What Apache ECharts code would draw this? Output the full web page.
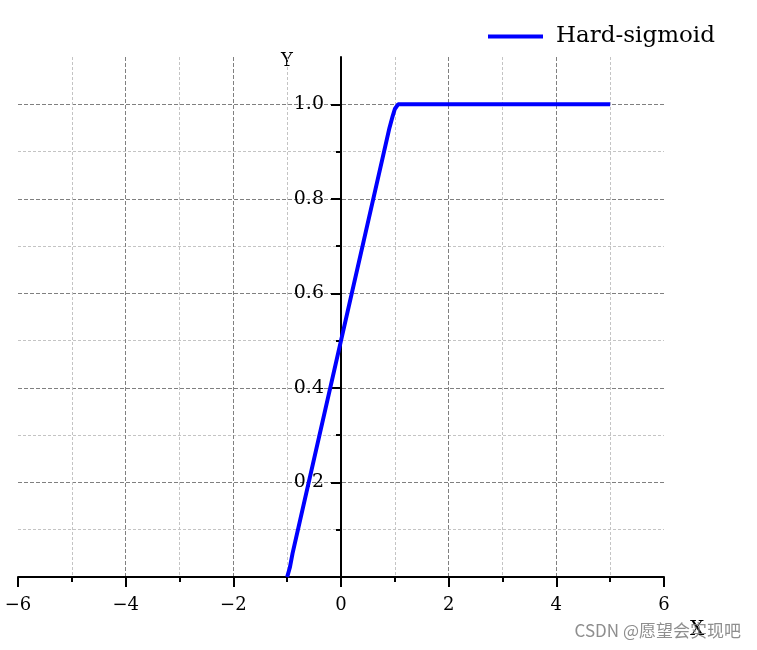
<!DOCTYPE html>
<html>
<head>
<meta charset="utf-8">
<script src="https://cdn.jsdelivr.net/npm/echarts@6/dist/echarts.min.js"></script>
<style>html,body{margin:0;padding:0;background:#fff}#c{width:757px;height:650px}</style>
</head>
<body>
<div id="c"></div>
<script>
var seriesName = 'Hard-sigmoid';
var xValues = [-1.0, -0.95, -0.9, 0.9, 0.96, 1.0, 1.06, 5.0];
var yValues = [0.0, 0.02, 0.05, 0.95, 0.975, 0.99, 1.0, 1.0];
var xMin = -6, xMax = 6, xStep = 2;
var yMin = 0, yMax = 1.1, yStep = 0.2, yGridMax = 1.0;
var yTickValues = [0, 0.2, 0.4, 0.6, 0.8, 1.0];
var yTickLabels = ['0.2', '0.4', '0.6', '0.8', '1.0'];

var points = xValues.map(function (x, i) { return [x, yValues[i]]; });
var FONT = '"DejaVu Serif", serif';
var chart = echarts.init(document.getElementById('c'), null, {renderer: 'canvas'});

var W = 757, H = 650;
var gridTop = 57, gridBottom = 73, gridLeft = 18, gridRight = 93;
var plotW = W - gridLeft - gridRight;
var plotH = H - gridTop - gridBottom;
var grid2Top = gridTop + plotH * (yMax - yGridMax) / (yMax - yMin);
var yAxisOffset = -plotW * (0 - xMin) / (xMax - xMin);

var majorStyle = {color: '#808080', type: [4, 2], width: 1};
var minorStyle = {color: '#c4c4c4', type: [3, 2], width: 1};

chart.setOption({
  animation: false,
  backgroundColor: '#ffffff',
  grid: [
    {left: gridLeft, right: gridRight, top: gridTop, bottom: gridBottom, containLabel: false, outerBoundsMode: 'none'},
    {left: gridLeft, right: gridRight, top: grid2Top, bottom: gridBottom, containLabel: false, outerBoundsMode: 'none'}
  ],
  legend: {
    left: 488, top: 25, padding: 0,
    itemWidth: 55, itemHeight: 4, itemGap: 13,
    textStyle: {fontFamily: FONT, fontSize: 23, color: '#000', padding: [0, 0, 0, 8]},
    data: [{name: seriesName, icon: 'rect'}]
  },
  xAxis: [{
    gridIndex: 0, type: 'value', min: xMin, max: xMax, interval: xStep,
    position: 'bottom',
    axisLine: {show: true, onZero: false, lineStyle: {color: '#000', width: 2}},
    axisTick: {show: true, length: 10, lineStyle: {color: '#000', width: 2}},
    minorTick: {show: true, splitNumber: 2, length: 5, lineStyle: {color: '#000', width: 2}},
    axisLabel: {margin: 19, fontFamily: FONT, fontSize: 18, color: '#000',
      formatter: function (v) { return v < 0 ? '\u2212' + Math.abs(v) : String(v); }},
    splitLine: {show: true, showMinLine: false, showMaxLine: false, lineStyle: majorStyle},
    minorSplitLine: {show: true, lineStyle: minorStyle}
  }, {
    gridIndex: 1, type: 'value', min: xMin, max: xMax, interval: xStep, show: false
  }],
  yAxis: [{
    gridIndex: 0, type: 'value', min: yMin, max: yMax, interval: yStep,
    position: 'left', offset: yAxisOffset,
    axisLine: {show: true, onZero: false, lineStyle: {color: '#000', width: 2}},
    axisTick: {show: true, length: 10, customValues: yTickValues, lineStyle: {color: '#000', width: 2}},
    minorTick: {show: true, splitNumber: 2, length: 5, lineStyle: {color: '#000', width: 2}},
    axisLabel: {margin: 17, fontFamily: FONT, fontSize: 19, color: '#000',
      customValues: yTickLabels.map(Number),
      formatter: function (v) { return v.toFixed(1); }},
    splitLine: {show: false},
    minorSplitLine: {show: false}
  }, {
    gridIndex: 1, type: 'value', min: yMin, max: yGridMax, interval: yStep,
    axisLine: {show: false}, axisTick: {show: false}, axisLabel: {show: false},
    splitLine: {show: true, showMinLine: false, showMaxLine: true, lineStyle: majorStyle},
    minorSplitLine: {show: true, lineStyle: minorStyle},
    minorTick: {show: false, splitNumber: 2}
  }],
  series: [{
    name: seriesName, type: 'line', xAxisIndex: 0, yAxisIndex: 0,
    data: points, showSymbol: false, symbol: 'none', smooth: false,
    lineStyle: {color: '#0000ff', width: 4},
    itemStyle: {color: '#0000ff'},
    z: 5
  }],
  graphic: [
    {type: 'text', left: 281, top: 52, style: {text: 'Y', font: '18px ' + FONT, fill: '#000'}},
    {type: 'text', left: 690, top: 620, style: {text: 'X', font: '20px ' + FONT, fill: '#000'}},
    {type: 'text', right: 16, top: 622, style: {text: 'CSDN @愿望会实现吧', font: '17px "Noto Sans CJK SC", sans-serif', fill: 'rgba(130,130,130,0.9)'}}
  ]
});
</script>
</body>
</html>
